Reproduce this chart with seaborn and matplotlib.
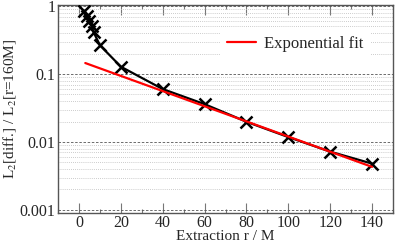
import pandas as pd
import matplotlib
matplotlib.use("Agg")
import matplotlib.pyplot as plt
import matplotlib.ticker as mticker
import seaborn as sns

# Data
r_extr = [2.5, 4, 5, 6, 7, 10, 20, 40, 60, 80, 100, 120, 140]
l2_ratio = [0.85, 0.71, 0.60, 0.51, 0.41, 0.265, 0.128, 0.06, 0.036,
            0.0198, 0.0118, 0.0072, 0.0048]
fit_r = [3, 140]
fit_ratio = [0.145, 0.0043]

df = pd.DataFrame({"r": r_extr, "ratio": l2_ratio})
fit = pd.DataFrame({"r": fit_r, "ratio": fit_ratio})

sns.set_style("ticks")
plt.rcParams["font.family"] = ["Liberation Serif", "DejaVu Serif"]
plt.rcParams["mathtext.fontset"] = "stix"

fig = plt.figure(figsize=(3.95, 2.42), dpi=100)
ax = fig.add_axes([0.147, 0.121, 0.848, 0.860])

ax.set_yscale("log")
ax.set_xlim(-10, 150)
ax.set_ylim(0.00091, 1.05)

# grid
ax.yaxis.set_major_locator(mticker.LogLocator(base=10, numticks=10))
ax.yaxis.set_minor_locator(mticker.LogLocator(base=10, subs=range(2, 10), numticks=10))
ax.yaxis.set_minor_formatter(mticker.NullFormatter())
ax.yaxis.set_major_formatter(mticker.FuncFormatter(lambda v, p: f"{v:g}"))
ax.grid(True, which="major", axis="y", color="#555555", linestyle=(0, (3, 2)), linewidth=0.6)
ax.grid(True, which="minor", axis="y", color="#bbbbbb", linestyle=(0, (1, 1.5)), linewidth=0.6)

sns.lineplot(data=df, x="r", y="ratio", ax=ax, color="black", linewidth=1.6,
             marker="x", markersize=8, markeredgewidth=1.8, markeredgecolor="black",
             zorder=3)
sns.lineplot(data=fit, x="r", y="ratio", ax=ax, color="red", linewidth=1.6,
             label="Exponential fit", zorder=4)

ax.xaxis.set_major_locator(mticker.MultipleLocator(20))
ax.xaxis.set_minor_locator(mticker.MultipleLocator(10))
ax.tick_params(axis="x", which="major", direction="in", top=True, length=7, width=0.8,
               color="#777777", labelsize=11.5, pad=2)
ax.tick_params(axis="x", which="minor", direction="in", top=True, length=3, width=0.8,
               color="#777777")
ax.tick_params(axis="y", which="both", length=0, labelsize=11.5, pad=2)

for s in ax.spines.values():
    s.set_color("#555555")
    s.set_linewidth(1.0)

ax.set_xlabel("Extraction r / M", fontsize=11, labelpad=-1)
ax.set_ylabel(r"L$_2$[diff.] / L$_2$[r=160M]", fontsize=11, labelpad=1)

leg = ax.legend(loc="upper right", bbox_to_anchor=(0.946, 0.905), frameon=True,
                fontsize=12, handlelength=1.7, handletextpad=0.5, borderaxespad=0.3)
leg.get_frame().set_edgecolor("none")
leg.get_frame().set_facecolor("white")
leg.get_frame().set_alpha(1)

fig.savefig("out.png", dpi=100)
